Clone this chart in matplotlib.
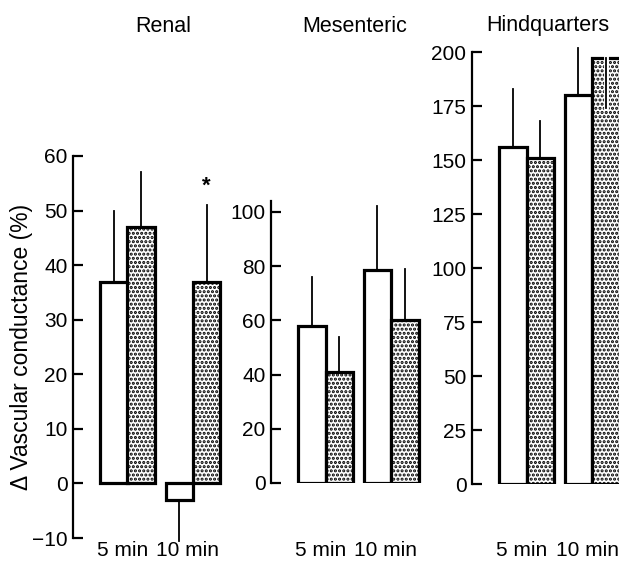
import matplotlib
matplotlib.use("Agg")
import matplotlib.pyplot as plt
import matplotlib.transforms as mtransforms
import matplotlib.patheffects as pe

plt.rcParams['font.family'] = ['Liberation Sans', 'DejaVu Sans']
plt.rcParams['hatch.linewidth'] = 1.5

# data
panels = ["Renal", "Mesenteric", "Hindquarters"]
groups = ["5 min", "10 min"]

renal_open = [37, -3]
renal_open_err = [13, -7.5]
renal_dot = [47, 37]
renal_dot_err = [10, 14]

mes_open = [58, 78.5]
mes_open_err = [18, 23.5]
mes_dot = [41, 60]
mes_dot_err = [13, 19]

hind_open = [156, 180]
hind_open_err = [27, 22]
hind_dot = [151, 197]
hind_dot_err = [17, -23]

renal_ticks = [-10, 0, 10, 20, 30, 40, 50, 60]
mes_ticks = [0, 20, 40, 60, 80, 100]
hind_ticks = [0, 25, 50, 75, 100, 125, 150, 175, 200]

W, H = 619, 569
fig = plt.figure(figsize=(W / 100, H / 100), dpi=100)

# axes boxes in pixels: left, bottom(y from top), top(y from top), ylim
boxes = [
    (73, 538, 156, (-10, 60)),
    (271, 483, 201, (0, 104)),
    (472, 484, 52, (0, 200)),
]
AX_W = 170
OFFSET, PITCH, BW = 27, 65.5, 27.5

data = [
    (renal_open, renal_open_err, renal_dot, renal_dot_err, renal_ticks),
    (mes_open, mes_open_err, mes_dot, mes_dot_err, mes_ticks),
    (hind_open, hind_open_err, hind_dot, hind_dot_err, hind_ticks),
]

for i, (name, box, d) in enumerate(zip(panels, boxes, data)):
    left, bot, top, ylim = box
    ax = fig.add_axes([left / W, 1 - bot / H, AX_W / W, (bot - top) / H])
    ax.set_xlim(0, AX_W)
    ax.set_ylim(*ylim)
    op, op_err, dt, dt_err, ticks = d

    for g in range(2):
        x0 = OFFSET + g * PITCH
        ax.bar(x0, op[g], width=BW, align='edge', color='white',
               edgecolor='black', linewidth=2.3, zorder=2)
        ax.bar(x0 + BW, dt[g], width=BW, align='edge', color='white',
               edgecolor='black', hatch='....', linewidth=2.3, zorder=2)
        for xc, v, e in [(x0 + BW / 2, op[g], op_err[g]),
                         (x0 + 1.5 * BW, dt[g], dt_err[g])]:
            inside = (e < 0) != (v < 0)
            line, = ax.plot([xc, xc], [v, v + e], color='black', lw=1.3,
                            clip_on=False, zorder=3 if inside else 1)
            if inside:
                line.set_path_effects([pe.Stroke(linewidth=3.5, foreground='white'),
                                       pe.Normal()])

    for sp in ['top', 'right', 'bottom']:
        ax.spines[sp].set_visible(False)
    ax.spines['left'].set_linewidth(1.6)
    ax.set_yticks(ticks)
    ax.tick_params(axis='y', direction='in', length=7, width=1.6,
                   labelsize=15, pad=4)
    ax.set_xticks([])

    trans = mtransforms.blended_transform_factory(ax.transData, fig.transFigure)
    for g, lab in enumerate(groups):
        xc = OFFSET + g * PITCH + BW - 5
        ax.text(xc, 1 - 551 / H, lab, transform=trans, ha='center',
                va='center', fontsize=15)

title_x = [163, 355, 548]
for name, tx in zip(panels, title_x):
    fig.text(tx / W, 1 - 26 / H, name, ha='center', va='center', fontsize=15.5)

fig.axes[0].set_ylabel("Δ Vascular conductance (%)", fontsize=16.5, labelpad=-1)
fig.axes[0].text(OFFSET + PITCH + 1.5 * BW, renal_dot[1] + renal_dot_err[1] + 1.5,
                 '*', ha='center', va='bottom', fontsize=16, fontweight='bold')

fig.savefig("out.png", dpi=100)
